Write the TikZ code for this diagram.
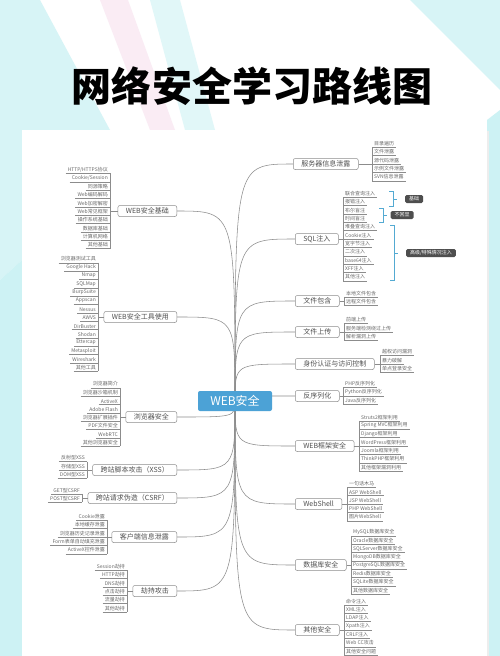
\documentclass[tikz,border=0pt]{standalone}
\usepackage{fontspec}
\setmainfont{Noto Sans CJK SC}
\usetikzlibrary{positioning}
\usetikzlibrary{calc}
\usetikzlibrary{backgrounds}
\definecolor{rootblue}{RGB}{76,162,214}
\definecolor{linegray}{RGB}{140,140,140}
\definecolor{textgray}{RGB}{80,80,80}
\definecolor{leafgray}{RGB}{105,105,105}
\definecolor{tagdark}{RGB}{78,78,78}
\definecolor{summblue}{RGB}{84,170,210}
\definecolor{mist}{RGB}{205,242,244}
\definecolor{blush}{RGB}{248,228,240}
\pgfdeclarelayer{back}
\pgfsetlayers{back,background,main}

\tikzset{
  root/.style={fill=rootblue, rounded corners=2bp, minimum width=74bp, minimum height=20bp,
    text=white, font=\fontsize{12bp}{14bp}\selectfont},
  branch/.style={draw=linegray, fill=white, rounded corners=2bp, line width=0.5bp,
    minimum height=11bp, inner xsep=8bp, inner ysep=0pt, text=textgray,
    font=\fontsize{7bp}{8bp}\selectfont},
  leaf/.style={inner xsep=2bp, inner ysep=1.2bp, text=leafgray,
    font=\fontsize{5bp}{6bp}\selectfont},
  twig/.style={draw=linegray, line width=0.4bp},
  link/.style={draw=linegray, line width=0.55bp},
  tag/.style={fill=tagdark, rounded corners=1.5bp, text=white, inner xsep=4bp,
    inner ysep=0pt, minimum height=8bp, font=\fontsize{5bp}{6bp}\selectfont},
  summ/.style={draw=summblue, line width=0.6bp}
}

% leaves of a branch: #1 side of the column (east on the left), #2 branch, #3 x, #4 y, #5 texts
\newcommand{\leafcol}[5]{%
  \foreach \t [count=\i] in {#5} {\xdef\nleaf{\i}}
  \foreach \t [count=\i] in {#5} {
    \pgfmathsetmacro\ly{#4+(\i-(\nleaf+1)/2)*8.35}
    \node[leaf, anchor=south #1] (#2-\i) at (#3,\ly) {\t};
    \draw[twig] (#2-\i.south west) -- (#2-\i.south east);
  }
  \draw[twig] (#2-1.south #1) -- (#2-\nleaf.south #1);
  \draw[twig] (#2) -- (#2 -| #2-1.south #1);
}

\begin{document}
\begin{tikzpicture}[x=1bp, y=-1bp]
\useasboundingbox (0,0) rectangle (500,656);

% Background
\begin{pgfonlayer}{back}
  \fill[white] (0,0) rectangle (500,656);
  \fill[mist, opacity=0.8] (0,0) -- (40,0) -- (110,130) -- (22,260) -- (0,280) -- cycle;
  \fill[blush, opacity=0.7] (100,0) -- (128,0) -- (175,130) -- (150,130) -- cycle;
  \fill[mist, opacity=0.6] (150,0) -- (180,0) -- (215,130) -- (185,130) -- cycle;
  \fill[mist, opacity=0.8] (410,0) -- (500,0) -- (500,90) -- cycle;
  \fill[mist] (0,280) -- (22,260) -- (22,656) -- (0,656) -- cycle;
  \fill[mist] (487,120) -- (500,110) -- (500,656) -- (487,656) -- cycle;
  \fill[black!7] (23,131) rectangle (489,656);
  \fill[white] (22,130) rectangle (487,656);
\end{pgfonlayer}

% Title
\node[font=\fontsize{40bp}{44bp}\selectfont\bfseries] (title) at (252,86) {网络安全学习路线图};

% Root
\node[root] (root) at (235,401) {WEB安全};

% Left branches
\node[branch, anchor=east] (jc) at (177,211) {WEB安全基础};
\node[branch, anchor=east] (gj) at (177,317) {WEB安全工具使用};
\node[branch, anchor=east] (ll) at (177,417) {浏览器安全};
\node[branch, anchor=east] (xss) at (177,470) {跨站脚本攻击（XSS）};
\node[branch, anchor=east] (csrf) at (177,498) {跨站请求伪造（CSRF）};
\node[branch, anchor=east] (kh) at (177,537) {客户端信息泄露};
\node[branch, anchor=east] (jh) at (177,591) {劫持攻击};

% Right branches
\node[branch, anchor=west] (fw) at (293,164) {服务器信息泄露};
\node[branch, anchor=west] (sql) at (295,239) {SQL注入};
\node[branch, anchor=west] (bh) at (295,301) {文件包含};
\node[branch, anchor=west] (sc) at (295,332) {文件上传};
\node[branch, anchor=west] (sf) at (295,364) {身份认证与访问控制};
\node[branch, anchor=west] (fx) at (295,396) {反序列化};
\node[branch, anchor=west] (kj) at (295,446) {WEB框架安全};
\node[branch, anchor=west] (ws) at (295,504) {WebShell};
\node[branch, anchor=west] (sj) at (295,565) {数据库安全};
\node[branch, anchor=west] (qt) at (295,630) {其他安全};

% Links from the root
\begin{scope}[on background layer]
  \foreach \b in {jc,gj,ll,xss,csrf,kh,jh}
    \draw[link] (root.center) .. controls (root.center |- \b.east) .. (\b.east);
  \foreach \b in {fw,sql,bh,sc,sf,fx,kj,ws,sj,qt}
    \draw[link] (root.center) .. controls (root.center |- \b.west) .. (\b.west);
\end{scope}

% Leaves, left
\leafcol{east}{jc}{110}{211}{HTTP/HTTPS协议, Cookie/Session, 同源策略, Web编码解码, Web加密解密, Web常见框架, 操作系统基础, 数据库基础, 计算机网络, 其他基础}
\leafcol{east}{gj}{98}{317}{浏览器测试工具, Google Hack, Nmap, SQLMap, BurpSuite, Appscan, Nessus, AWVS, DirBuster, Shodan, Ettercap, Metasploit, Wireshark, 其他工具}
\leafcol{east}{ll}{120}{417}{浏览器简介, 浏览器沙箱机制, ActiveX, Adobe Flash, 浏览器扩展插件, PDF文件安全, WebRTC, 其他浏览器安全}
\leafcol{east}{xss}{87}{470}{反射型XSS, 存储型XSS, DOM型XSS}
\leafcol{east}{csrf}{82}{498}{GET型CSRF, POST型CSRF}
\leafcol{east}{kh}{107}{537}{Cookie泄露, 本地缓存泄露, 浏览器历史记录泄露, Form表单自动填充泄露, ActiveX控件泄露}
\leafcol{east}{jh}{127}{591}{Session劫持, HTTP劫持, DNS劫持, 点击劫持, 流量劫持, 其他劫持}

% Leaves, right
\leafcol{west}{fw}{372}{164}{目录遍历, 文件泄露, 源代码泄露, 示例文件泄露, SVN信息泄露}
\leafcol{west}{sql}{343}{239}{联合查询注入, 报错注入, 布尔盲注, 时间盲注, 堆叠查询注入, Cookie注入, 宽字节注入, 二次注入, base64注入, XFF注入, 其他注入}
\leafcol{west}{bh}{344}{301}{本地文件包含, 远程文件包含}
\leafcol{west}{sc}{344}{332}{前端上传, 服务端检测绕过上传, 解析漏洞上传}
\leafcol{west}{sf}{380}{364}{越权访问漏洞, 暴力破解, 单点登录安全}
\leafcol{west}{fx}{343}{396}{PHP反序列化, Python反序列化, Java反序列化}
\leafcol{west}{kj}{359}{446}{Struts2框架利用, Spring MVC框架利用, Django框架利用, WordPress框架利用, Joomla框架利用, ThinkPHP框架利用, 其他框架漏洞利用}
\leafcol{west}{ws}{347}{504}{一句话木马, ASP WebShell, JSP WebShell, PHP WebShell, 图片WebShell}
\leafcol{west}{sj}{351}{565}{MySQL数据库安全, Oracle数据库安全, SQLServer数据库安全, MongoDB数据库安全, PostgreSQL数据库安全, Redis数据库安全, SQLite数据库安全, 其他数据库安全}
\leafcol{west}{qt}{344}{630}{命令注入, XML注入, LDAP注入, Xpath注入, CRLF注入, Web CC攻击, 其他安全问题}

% Summaries of the SQL leaves
\node[tag] (t1) at (414,199) {基础};
\node[tag] (t2) at (402,215) {不回显};
\node[tag] (t3) at (431,253) {高级/特殊情况注入};
\draw[summ] (389,191) -| (393,206) -- (389,206);
\draw[summ] (t1.west -| 393,0) -- ++(4,0);
\draw[summ] (379,208) -| (383,222) -- (379,222);
\draw[summ] (t2.west -| 383,0) -- ++(4,0);
\draw[summ] (390,225) -| (394,280) -- (390,280);
\draw[summ] (t3.west -| 394,0) -- ++(4,0);
\end{tikzpicture}
\end{document}
